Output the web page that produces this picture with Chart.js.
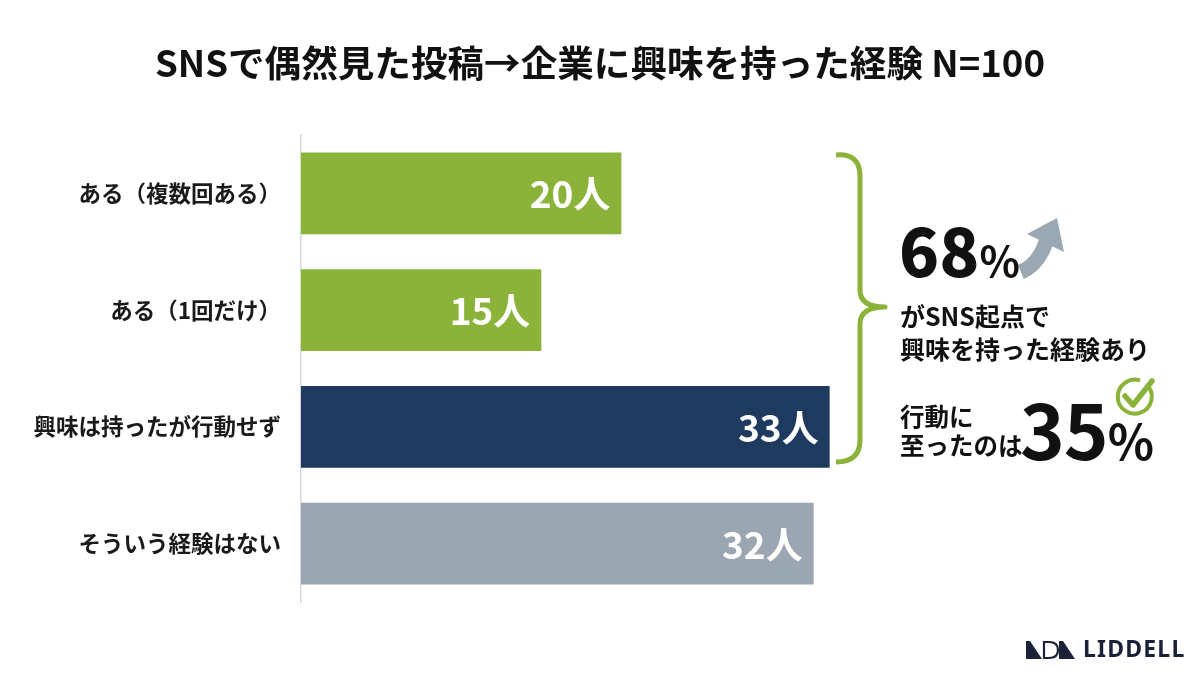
<!DOCTYPE html>
<html lang="ja">
<head>
    <meta charset="UTF-8">
    <title>SNSで偶然見た投稿→企業に興味を持った経験</title>
    <script src="https://cdn.jsdelivr.net/npm/chart.js@4.4.1/dist/chart.umd.min.js"></script>
    <style>
        body {
            margin: 0;
            padding: 0;
            background: #ffffff;
            font-family: "Noto Sans CJK JP", "Noto Sans", sans-serif;
        }

        .stage {
            position: relative;
            width: 1200px;
            height: 675px;
            overflow: hidden;
            background: #ffffff;
        }

        #chart {
            position: absolute;
            left: 0;
            top: 0;
        }

        .title {
            position: absolute;
            left: 0;
            top: 38px;
            width: 1200px;
            text-align: center;
            font-size: 36.6px;
            font-weight: 700;
            color: #111111;
            line-height: 48px;
        }

        .note {
            position: absolute;
            color: #111111;
            font-weight: 700;
            white-space: nowrap;
        }

        .big68 {
            left: 899px;
            top: 210px;
            font-size: 66px;
            line-height: 76px;
            font-weight: 900;
        }

        .big68 small {
            font-size: 42px;
            font-weight: 700;
        }

        .big35 small {
            font-size: 48px;
            font-weight: 700;
        }

        .line1 {
            left: 900px;
            top: 299px;
            font-size: 25px;
            line-height: 33px;
        }

        .line2 {
            left: 900px;
            top: 401px;
            font-size: 24.5px;
            line-height: 29px;
        }

        .big35 {
            left: 1020px;
            top: 385px;
            font-size: 76px;
            line-height: 84px;
            letter-spacing: -1px;
        }

        svg.deco {
            position: absolute;
            left: 0;
            top: 0;
        }

        .logo {
            position: absolute;
            left: 1083px;
            top: 635px;
            font-size: 23px;
            line-height: 27px;
            font-weight: 700;
            letter-spacing: 1.2px;
            color: #1b2238;
            font-family: "Noto Sans", "Open Sans", sans-serif;
        }
    </style>
</head>

<body>
    <div class="stage">
        <canvas id="chart" width="1200" height="675"></canvas>
        <div class="title">SNSで偶然見た投稿→企業に興味を持った経験 N=100</div>

        <svg class="deco" width="1200" height="675">
            <!-- bracket -->
            <path d="M 836 155 Q 860 153 860 176 L 860 290 Q 860 307 885 307 Q 860 307 860 324 L 860 440 Q 860 462 836 462"
                fill="none" stroke="#8bb33a" stroke-width="5" stroke-linejoin="round" />
            <!-- arrow -->
            <path d="M 1021 272 Q 1038 265 1046 242" fill="none" stroke="#9aa8b4" stroke-width="15" />
            <polygon points="1057,218 1027,234 1064,252" fill="#9aa8b4" />
            <!-- check -->
            <path d="M 1148 386 A 17 17 0 1 1 1140 380.5" fill="none" stroke="#8bb33a" stroke-width="4" />
            <path d="M 1125 396 L 1133 405 L 1152 381" fill="none" stroke="#8bb33a" stroke-width="5.5"
                stroke-linecap="round" stroke-linejoin="round" />
            <!-- logo mark -->
            <polygon points="1026,641 1030,641 1042,659 1026,659" fill="#1b2238" />
            <path d="M 1044 642 L 1049 642 Q 1058 642 1058 650 Q 1058 658 1049 658 L 1044 658 Z"
                fill="none" stroke="#1b2238" stroke-width="2.2" />
            <polygon points="1059,641 1063,641 1075,659 1059,659" fill="#1b2238" />
        </svg>

        <div class="note big68">68<small>%</small></div>
        <div class="note line1">がSNS起点で<br>興味を持った経験あり</div>
        <div class="note line2">行動に<br>至ったのは</div>
        <div class="note big35">35<small>%</small></div>
        <div class="logo">LIDDELL</div>
    </div>

    <script>
        const categories = [
            "ある（複数回ある）",
            "ある（1回だけ）",
            "興味は持ったが行動せず",
            "そういう経験はない",
        ];
        const counts = [20, 15, 33, 32];
        const barColors = ["#8bb33a", "#8bb33a", "#1f3a5f", "#9aa6b2"];
        const unit = "人";

        const valueLabels = {
            id: "valueLabels",
            afterDatasetsDraw(chart) {
                const ctx = chart.ctx;
                const meta = chart.getDatasetMeta(0);
                ctx.save();
                ctx.font = "700 37px 'Noto Sans CJK JP', sans-serif";
                ctx.fillStyle = "#ffffff";
                ctx.textAlign = "right";
                ctx.textBaseline = "middle";
                meta.data.forEach((bar, i) => {
                    ctx.fillText(counts[i] + unit, bar.x - 11, bar.y + 1);
                });
                ctx.restore();
            },
        };

        const chartElement = document.getElementById("chart");
        new Chart(chartElement, {
            type: "bar",
            data: {
                labels: categories,
                datasets: [
                    {
                        data: counts,
                        backgroundColor: barColors,
                        borderWidth: 0,
                        categoryPercentage: 0.7,
                        barPercentage: 1.0,
                    },
                ],
            },
            options: {
                indexAxis: "y",
                responsive: false,
                animation: false,
                layout: {
                    padding: { left: 0, top: 135, right: 98, bottom: 73 },
                },
                plugins: {
                    legend: { display: false },
                    tooltip: { enabled: false },
                },
                scales: {
                    x: {
                        display: false,
                        min: 0,
                        max: 50,
                    },
                    y: {
                        grid: { display: false },
                        border: { display: true, color: "#d3d7db", width: 1.5 },
                        ticks: {
                            color: "#1a1a1a",
                            padding: 12,
                            font: { family: "'Noto Sans CJK JP', sans-serif", size: 22.5, weight: "700" },
                        },
                        afterFit(scale) {
                            scale.width = 301;
                        },
                    },
                },
            },
            plugins: [valueLabels],
        });
    </script>
</body>

</html>
